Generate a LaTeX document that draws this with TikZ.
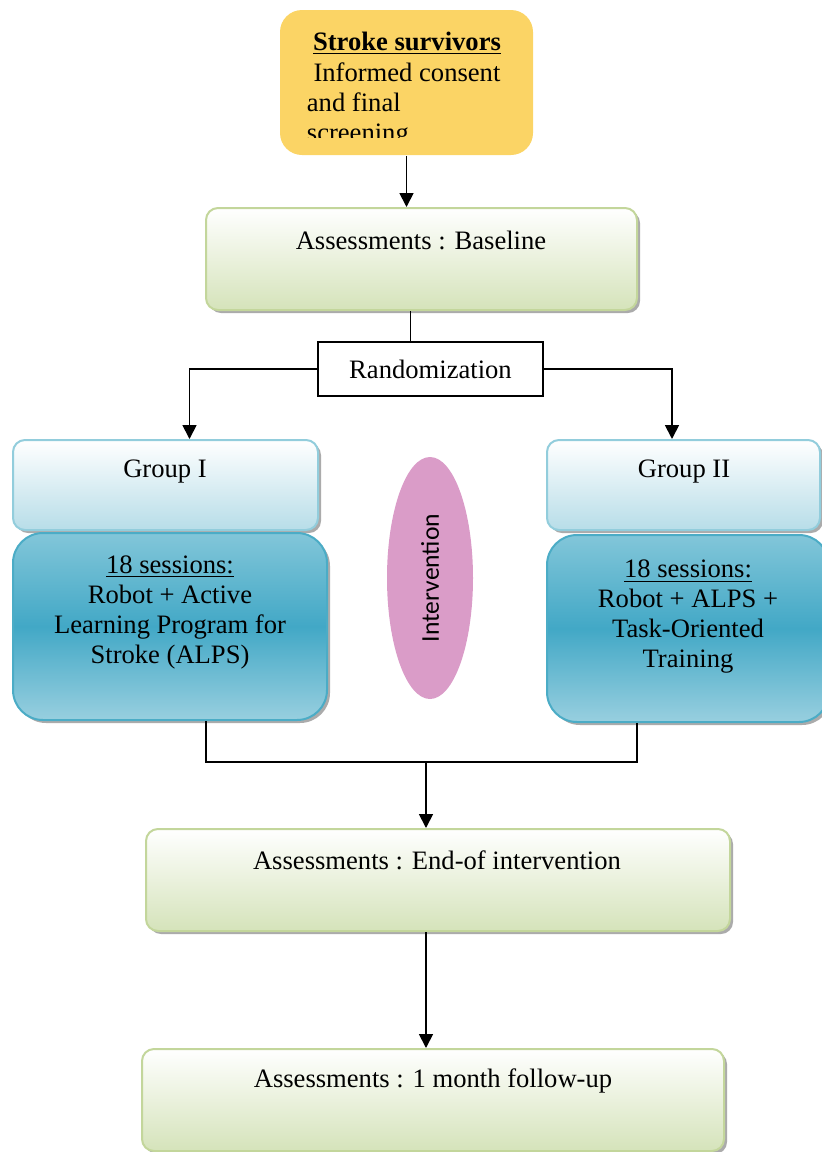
\documentclass[tikz,border=0pt]{standalone}
\usepackage{fontspec}
\setmainfont{Liberation Serif}
\newfontfamily\ovalfont{Carlito}
\usepackage{xcolor}
\usetikzlibrary{arrows.meta,positioning,shadows,shapes.geometric}
\definecolor{survivor}{RGB}{251,212,101}
\definecolor{assessline}{RGB}{195,214,155}
\definecolor{assessfill}{RGB}{213,227,186}
\definecolor{groupline}{RGB}{146,205,220}
\definecolor{groupfill}{RGB}{183,221,232}
\definecolor{sessline}{RGB}{75,172,198}
\definecolor{sesstop}{RGB}{130,198,217}
\definecolor{sessmid}{RGB}{66,168,198}
\definecolor{sessbot}{RGB}{152,207,223}
\definecolor{oval}{RGB}{218,156,200}

\begin{document}
\begin{tikzpicture}[x=0.5pt,y=-0.5pt,>={Triangle[length=7pt,width=7pt]},line width=0.9pt,
  txt/.style={font=\fontsize{13.3}{15}\selectfont,align=center,inner sep=0pt},
  boxshadow/.style={drop shadow={shadow xshift=1.5pt,shadow yshift=-1.5pt,fill=black!60,opacity=0.55}},
  assess/.style={draw=assessline,line width=1pt,rounded corners=6pt,top color=white,bottom color=assessfill,boxshadow,minimum height=51pt},
  groupbox/.style={draw=groupline,line width=1pt,rounded corners=6pt,top color=white,bottom color=groupfill,boxshadow,minimum height=45pt,minimum width=152.5pt},
  sessbox/.style={draw=sessline,line width=1pt,rounded corners=15pt,top color=sesstop,bottom color=sessbot,middle color=sessmid,boxshadow,minimum height=93.5pt}]
  \useasboundingbox (0,0) rectangle (822,1152);

  % boxes
  \node[fill=survivor,rounded corners=11pt,minimum width=126.5pt,minimum height=72.5pt] (top) at (406.5,82.5) {};
  \node[assess,minimum width=215.5pt] (base) at (421.5,259) {};
  \node[draw,line width=0.6pt,fill=white,minimum width=112.5pt,minimum height=27pt] (rand) at (430.5,369) {};
  \node[groupbox] (g1) at (165.5,485) {};
  \node[groupbox,minimum width=136.5pt] (g2) at (683.5,485) {};
  \node[sessbox,minimum width=157pt] (s1) at (170,626.5) {};
  \node[sessbox,minimum width=141pt] (s2) at (688,628.5) {};
  \node[ellipse,fill=oval,rotate=90,minimum width=121pt,minimum height=43pt,inner sep=0pt,
        font=\ovalfont\fontsize{12.8}{14}\selectfont] (oval) at (430,578) {Intervention};
  \node[assess,minimum width=292pt] (endb) at (438,880) {};
  \node[assess,minimum width=291pt] (follow) at (433,1100) {};

  % texts
  \node[txt] (survtitle) at (407,43) {\underline{\textbf{Stroke survivors}}};
  \begin{scope}
    \clip (280,20) rectangle (533,137);
    \node[txt,align=left,anchor=north west] (consent) at (306,62) {\ Informed consent\\and final\\screening};
  \end{scope}
  \node[txt] (basetxt) at (421,240) {Assessments : Baseline};
  \node[txt] (randtxt) at (rand) {Randomization};
  \node[txt] (g1txt) at (165,472) {Group I};
  \node[txt] (g2txt) at (684,472) {Group II};
  \node[txt] (s1txt) at (170,612) {\underline{18 sessions:}\\Robot + Active\\Learning Program for\\Stroke (ALPS)};
  \node[txt] (s2txt) at (688,617) {\underline{18 sessions:}\\Robot + ALPS +\\Task-Oriented\\Training};
  \node[txt] (endtxt) at (437,860) {Assessments : End-of intervention};
  \node[txt] (followtxt) at (433,1081) {Assessments : 1 month follow-up};

  % connectors
  \coordinate (join) at (426,762);
  \draw[->] (top.south) -- (top.south |- base.north);
  \draw ([xshift=-10pt]rand.north) -- ([xshift=-10pt]rand.north |- base.south);
  \draw[->] (rand.west) -| ([xshift=12pt]g1.north);
  \draw[->] (rand.east) -| ([xshift=-5.75pt]g2.north);
  \draw ([xshift=18pt]s1.south) |- (join) -| ([xshift=-25.5pt]s2.south);
  \draw[->] (join) -- (join |- endb.north);
  \draw[->] ([xshift=-6pt]endb.south) -- ([xshift=-6pt]endb.south |- follow.north);
\end{tikzpicture}
\end{document}
